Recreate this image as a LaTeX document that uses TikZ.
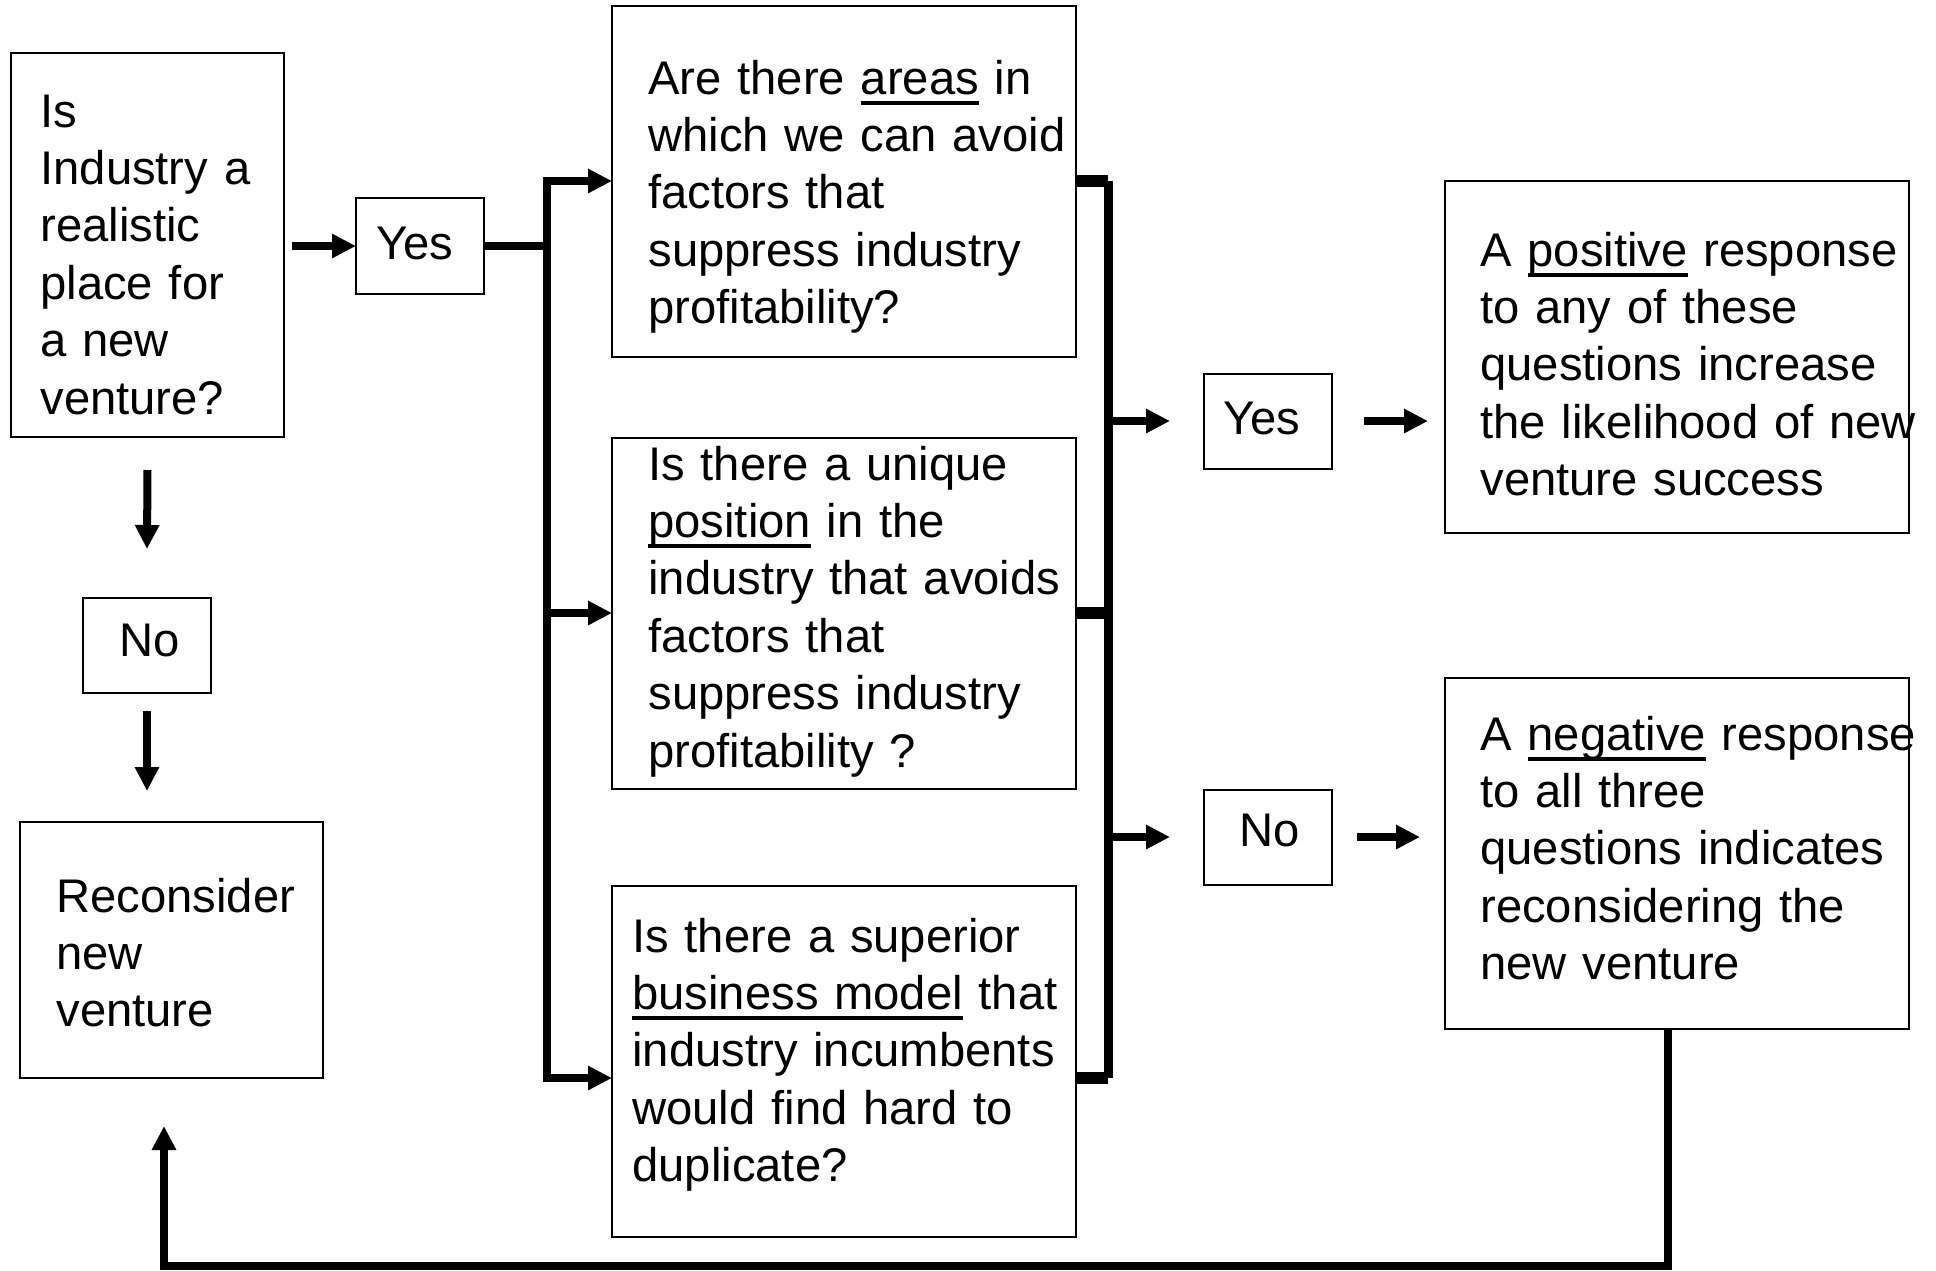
\documentclass[tikz,border=0pt]{standalone}
\usepackage{fontspec}
\setmainfont{Liberation Sans}
\usetikzlibrary{arrows.meta,calc}

% body text size used in every box
\newcommand\bodyfont{\fontsize{23.6pt}{28.7pt}\selectfont}
% underline set just below the baseline, through the descenders
\newsavebox\ulinebox
\newcommand\ulword[1]{\leavevmode\sbox\ulinebox{#1}\rlap{\rule[-5.5pt]{\wd\ulinebox}{2pt}}\usebox\ulinebox}

\tikzset{
  box/.style={draw, line width=1.15pt, inner sep=0pt, outer sep=0pt, anchor=north west},
  wh/.style 2 args={minimum width=#1*0.5pt, minimum height=#2*0.5pt},
  txt/.style={inner sep=0pt, anchor=base west, align=left, text width=260pt, font=\bodyfont},
  lbl/.style={inner sep=0pt, anchor=base, font=\bodyfont},
  arr/.style={line width=4pt, -{Triangle[length=12pt,width=11.5pt]}},
  bus/.style={line width=4pt},
  stub/.style={line width=6.25pt},
}

\begin{document}
\begin{tikzpicture}[x=0.5pt,y=-0.5pt]
\useasboundingbox[fill=white] (0,0) rectangle (1936,1270);

% ---- boxes ----
\node[box, wh={273}{384}] (a)    at (11,53)    {};
\node[box, wh={128}{96}]  (yes1) at (356,198)  {};
\node[box, wh={464}{351}] (q1)   at (612,6)    {};
\node[box, wh={464}{351}] (q2)   at (612,438)  {};
\node[box, wh={464}{351}] (q3)   at (612,886)  {};
\node[box, wh={128}{95}]  (yes2) at (1204,374) {};
\node[box, wh={128}{95}]  (no2)  at (1204,790) {};
\node[box, wh={464}{352}] (pos)  at (1445,181) {};
\node[box, wh={464}{351}] (neg)  at (1445,678) {};
\node[box, wh={128}{95}]  (no1)  at (83,598)   {};
\node[box, wh={303}{256}] (rec)  at (20,822)   {};

% ---- texts ----
\node[txt] (at) at (40,127) {Is\\Industry a\\realistic\\place for\\a new\\venture?};
\node[lbl] (yes1t) at (415,259) {Yes};
\node[txt] (q1t) at (648,94) {Are there \ulword{areas} in\\which we can avoid\\factors that\\suppress industry\\profitability?};
\node[txt] (q2t) at (648,480) {Is there a unique\\\ulword{position} in the\\industry that avoids\\factors that\\suppress industry\\profitability ?};
\node[txt] (q3t) at (632,952) {Is there a superior\\\ulword{business model} that\\industry incumbents\\would find hard to\\duplicate?};
\node[lbl] (yes2t) at (1262,434) {Yes};
\node[lbl] (no2t) at (1270,846) {No};
\node[txt] (post) at (1480,266) {A \ulword{positive} response\\to any of these\\questions increase\\the likelihood of new\\venture success};
\node[txt] (negt) at (1480,750) {A \ulword{negative} response\\to all three\\questions indicates\\reconsidering the\\new venture};
\node[lbl] (no1t) at (150,656) {No};
\node[txt] (rect) at (56,912) {Reconsider\\new\\venture};

% ---- junction points ----
\coordinate (lbt) at (547,181);
\coordinate (lbm) at (547,613);
\coordinate (lbb) at (547,1078);
\coordinate (lbj) at (547,246);
\coordinate (rbt) at (1108,181);
\coordinate (rbm) at (1108,613);
\coordinate (rbb) at (1108,1078);
\coordinate (rby) at (1108,421);
\coordinate (rbn) at (1108,837);
\coordinate (lpb) at (164,1266);

% ---- first question: yes / no ----
\draw[arr] ($(a.east |- yes1.west)+(4pt,0)$) -- (yes1.west);
\draw[arr] ($(a.south)+(0,-16.5pt)$) -- ($(no1.north)+(0,24.5pt)$);
\draw[arr] ($(no1.south)+(0,-9pt)$) -- ($(no1.south |- rec.north)+(0,15.5pt)$);

% ---- fan out to the three questions ----
\draw[bus] (yes1.east |- lbj) -- (lbj);
\draw[arr] (lbb) -- (lbt) -- (lbt -| q1.west);
\draw[arr] (lbt) -- (lbb) -- (lbb -| q3.west);
\draw[arr] (lbm) -- (lbm -| q2.west);

% ---- collect the answers ----
\draw[stub] (q1.east |- rbt) -- (rbt);
\draw[stub] (q2.east |- rbm) -- (rbm);
\draw[stub] (q3.east |- rbb) -- (rbb);
\draw[line width=4.5pt] (rbt) -- (rbb);
\draw[arr] (rby) -- ($(yes2.west |- rby)+(-17pt,0)$);
\draw[arr] (rbn) -- ($(no2.west |- rbn)+(-17pt,0)$);

% ---- outcomes ----
\draw[arr] ($(yes2.east |- rby)+(16pt,0)$) -- ($(pos.west |- rby)+(-8.5pt,0)$);
\draw[arr] ($(no2.east |- rbn)+(12.5pt,0)$) -- ($(neg.west |- rbn)+(-12.5pt,0)$);

% ---- loop back to reconsider ----
\draw[arr] ($(neg.south)+(-4.5pt,0)$) |- (lpb) -- ($(rec.south -| lpb)+(0,-24pt)$);
\end{tikzpicture}
\end{document}
